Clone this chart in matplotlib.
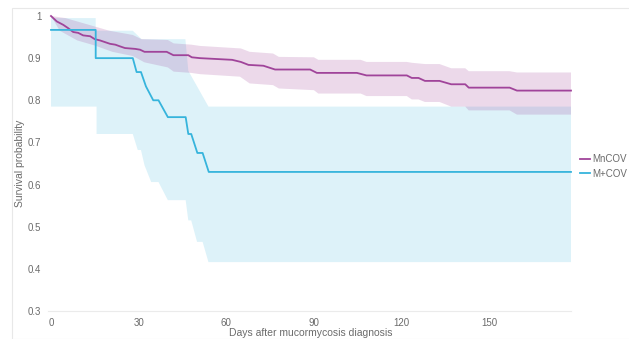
import matplotlib
matplotlib.use("Agg")
import matplotlib.pyplot as plt
import matplotlib.patches as patches
import numpy as np

# MnCOV survival curve and 95% band (days, probability)
mn_days = [0, 2, 4.2, 5.9, 7.6, 9.3, 11, 13.4, 15, 16.8, 18.5, 20.2, 22, 23.6, 25.3, 27, 28.8,
           30.5, 32, 39.6, 41.9, 47, 48.2, 51, 62, 65, 67.6, 72.7, 76.7, 88.7, 91, 104.7, 108,
           121.8, 123.5, 125.8, 128, 133, 137, 141.8, 143, 157, 159.5, 178]
mn_surv = [1.0, 0.987, 0.979, 0.971, 0.962, 0.96, 0.954, 0.952, 0.945, 0.942, 0.938, 0.934,
           0.932, 0.928, 0.924, 0.923, 0.922, 0.92, 0.915, 0.915, 0.907, 0.907, 0.902, 0.9,
           0.896, 0.891, 0.884, 0.882, 0.873, 0.873, 0.865, 0.865, 0.859, 0.859, 0.853, 0.853,
           0.846, 0.846, 0.838, 0.838, 0.83, 0.83, 0.823, 0.823]
mn_up_days = [0, 5, 10, 15, 20, 28, 31, 40, 42, 48, 51, 65, 68, 76, 78, 90, 91.5, 106, 108,
              121.8, 123.5, 128, 133, 137, 141.8, 143, 157, 159.5, 178]
mn_up = [1.0, 0.995, 0.985, 0.975, 0.965, 0.955, 0.945, 0.943, 0.935, 0.932, 0.929, 0.923,
         0.915, 0.911, 0.903, 0.902, 0.896, 0.896, 0.891, 0.891, 0.889, 0.886, 0.886, 0.876,
         0.876, 0.869, 0.869, 0.866, 0.866]
mn_lo_days = [0, 3, 9, 15, 21, 28, 32, 40, 42, 48, 51, 64.7, 68, 76, 78, 90, 91.5, 106, 108,
              121.8, 123.5, 125.8, 128, 133, 137, 141.8, 143, 157, 159.5, 178]
mn_lo = [1.0, 0.965, 0.942, 0.93, 0.915, 0.905, 0.89, 0.878, 0.868, 0.865, 0.862, 0.856, 0.84,
         0.836, 0.828, 0.824, 0.816, 0.816, 0.81, 0.81, 0.802, 0.802, 0.796, 0.796, 0.785,
         0.785, 0.776, 0.776, 0.766, 0.766]

# M+COV survival curve and 95% band
mp_days = [0, 15.3, 15.3, 28, 29.3, 30.8, 32.5, 35, 36.8, 40, 46.1, 47, 48, 50.1, 51.9, 54, 178]
mp_surv = [0.967, 0.967, 0.9, 0.9, 0.867, 0.867, 0.833, 0.8, 0.8, 0.76, 0.76, 0.72, 0.72,
           0.675, 0.675, 0.63, 0.63]
mp_up_days = [0, 15.3, 15.3, 28, 31, 46, 47, 53.9, 178]
mp_up = [0.995, 0.995, 0.965, 0.965, 0.945, 0.945, 0.87, 0.785, 0.785]
mp_lo_days = [0, 15.6, 15.6, 28, 29.7, 30.8, 32, 34.3, 36.8, 40, 46.1, 47, 48, 50, 51.9, 53.9, 178]
mp_lo = [0.785, 0.785, 0.72, 0.72, 0.682, 0.682, 0.646, 0.606, 0.606, 0.563, 0.563, 0.515,
         0.515, 0.464, 0.464, 0.416, 0.416]

x_ticks = [0, 30, 60, 90, 120, 150]
y_ticks = [0.3, 0.4, 0.5, 0.6, 0.7, 0.8, 0.9, 1.0]
y_labels = ["0.3", "0.4", "0.5", "0.6", "0.7", "0.8", "0.9", "1"]

purple = "#A0449A"
blue = "#36B4DC"
grey = "#6b6b6b"

plt.rcParams['font.family'] = ['Liberation Sans', 'DejaVu Sans']

fig = plt.figure(figsize=(6.29, 3.39), dpi=100)
fig.patches.append(patches.Rectangle((12 / 629, 0), 1, 1 - 8 / 339, transform=fig.transFigure,
                                     fill=False, edgecolor="#e8e8e8", linewidth=0.8))
ax = fig.add_axes([51 / 629, 28 / 339, 520 / 629, 295 / 339])

ax.fill(np.concatenate([mp_up_days, mp_lo_days[::-1]]), np.concatenate([mp_up, mp_lo[::-1]]),
        color=blue, alpha=0.17, linewidth=0)
ax.fill(np.concatenate([mn_up_days, mn_lo_days[::-1]]), np.concatenate([mn_up, mn_lo[::-1]]),
        color=purple, alpha=0.2, linewidth=0)
ax.plot(mn_days, mn_surv, color=purple, linewidth=1.3, label="MnCOV", clip_on=False)
ax.plot(mp_days, mp_surv, color=blue, linewidth=1.3, label="M+COV", clip_on=False)

ax.set_xlim(0, 178)
ax.set_ylim(0.3, 1.0)
ax.set_xticks(x_ticks)
ax.set_yticks(y_ticks)
ax.set_yticklabels(y_labels)
ax.tick_params(length=0, labelsize=7, colors=grey, pad=7)
ax.tick_params(axis='x', pad=5)
for side in ["top", "right", "left"]:
    ax.spines[side].set_visible(False)
ax.spines["bottom"].set_color("#ebebeb")
ax.spines["bottom"].set_bounds(-1, 178)

ax.set_xlabel("Days after mucormycosis diagnosis", fontsize=7.5, color=grey, labelpad=0)
ax.set_ylabel("Survival probability", fontsize=7.5, color=grey, labelpad=2)

leg = ax.legend(loc="center left", bbox_to_anchor=(1.0, 0.49), frameon=False, fontsize=7,
                handlelength=1.1, handletextpad=0.15, labelspacing=0.45, borderaxespad=0.5)
for t in leg.get_texts():
    t.set_color(grey)

fig.savefig("out.png", dpi=100)
